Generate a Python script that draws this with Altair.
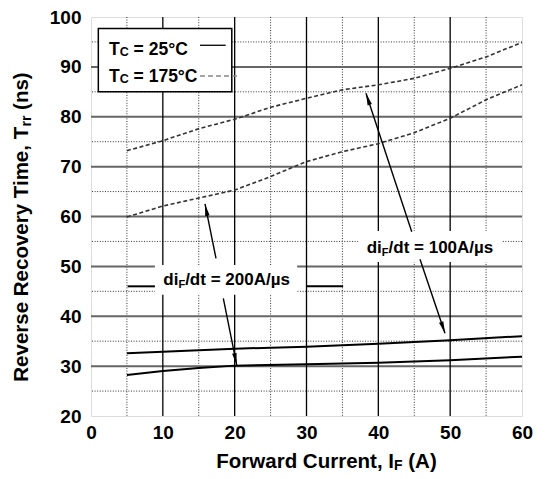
import math
import altair as alt
import pandas as pd

# ---------------- data ----------------
x_25c_100 = [5, 10, 20, 30, 40, 50, 60]
y_25c_100 = [32.6, 32.9, 33.5, 33.9, 34.5, 35.2, 36.0]
x_25c_200 = [5, 10, 15, 20, 30, 40, 50, 60]
y_25c_200 = [28.2, 29.0, 29.6, 30.1, 30.4, 30.7, 31.2, 31.9]
x_175c = [5, 10, 15, 20, 25, 30, 35, 40, 45, 50, 55, 60]
y_175c_100 = [73.2, 75.2, 77.6, 79.5, 81.9, 83.7, 85.4, 86.4, 87.7, 89.7, 92.0, 94.9]
y_175c_200 = [59.9, 62.1, 63.7, 65.3, 68.0, 71.0, 73.0, 74.6, 76.8, 79.7, 83.4, 86.4]

x_ticks = [0, 10, 20, 30, 40, 50, 60]
y_ticks = [20, 30, 40, 50, 60, 70, 80, 90, 100]
x_major = [10, 20, 30, 40, 50]
x_minor = [5, 15, 25, 35, 45, 55]
y_major = [30, 40, 50, 60, 70, 80, 90]
y_minor = [25, 35, 45, 55, 65, 75, 85, 95]

# arrows: tail -> head (data coordinates)
arrow_tail_x = [44.65, 45.80, 17.40, 18.42]
arrow_tail_y = [56.95, 51.42, 51.62, 43.60]
arrow_head_x = [38.28, 49.28, 15.87, 20.28]
arrow_head_y = [84.70, 36.58, 62.51, 30.23]

# ---------------- layout ----------------
W, H = 431, 399
PL, PT = 91, 17
FONT = "Liberation Sans"
XS = alt.Scale(domain=[0, 60], nice=False, zero=False)
YS = alt.Scale(domain=[20, 100], nice=False, zero=False)
XA = alt.Axis(values=x_ticks, title=None, grid=False, domain=False, ticks=False,
              labelPadding=7, labelFontSize=19, labelFontWeight="bold",
              labelFont=FONT, labelColor="black", labelFlush=False)
YA = alt.Axis(values=y_ticks, title=None, grid=False, domain=False, ticks=False,
              labelPadding=10, labelFontSize=19, labelFontWeight="bold",
              labelFont=FONT, labelColor="black", labelFlush=False)


def ex(f):
    return alt.X(f"{f}:Q", scale=XS, axis=XA)


def ey(f):
    return alt.Y(f"{f}:Q", scale=YS, axis=YA)


def sx(v):
    return v * W / 60.0


def sy(v):
    return v * H / 80.0


layers = []

# grid
layers.append(alt.Chart(pd.DataFrame({"x": x_minor})).mark_rule(
    color="#333", strokeWidth=1, strokeDash=[1, 1.6]).encode(x=ex("x")))
layers.append(alt.Chart(pd.DataFrame({"y": y_minor})).mark_rule(
    color="#333", strokeWidth=1, strokeDash=[1, 1.6]).encode(y=ey("y")))
layers.append(alt.Chart(pd.DataFrame({"y": y_major})).mark_rule(
    color="#666", strokeWidth=2).encode(y=ey("y")))
layers.append(alt.Chart(pd.DataFrame({"x": x_major})).mark_rule(
    color="black", strokeWidth=1.3).encode(x=ex("x")))

# white boxes
boxes = pd.DataFrame({
    "x": [1.02, 37.2, 8.9], "x2": [19.6, 57.2, 28.7],
    "y": [85.0, 50.9, 44.3], "y2": [97.7, 57.1, 50.3],
    "s": [1.5, 0, 0]})
layers.append(alt.Chart(boxes).mark_rect(fill="white", stroke="black").encode(
    x=ex("x"), x2="x2:Q", y=ey("y"), y2="y2:Q",
    strokeWidth=alt.StrokeWidth("s:Q", scale=None)))

# curves
solid = pd.concat([
    pd.DataFrame({"x": x_25c_100, "y": y_25c_100, "s": "25_100"}),
    pd.DataFrame({"x": x_25c_200, "y": y_25c_200, "s": "25_200"}),
])
dashed = pd.concat([
    pd.DataFrame({"x": x_175c, "y": y_175c_100, "s": "175_100"}),
    pd.DataFrame({"x": x_175c, "y": y_175c_200, "s": "175_200"}),
])
layers.append(alt.Chart(solid).mark_line(color="black", strokeWidth=2).encode(
    x=ex("x"), y=ey("y"), detail="s:N"))
layers.append(alt.Chart(dashed).mark_line(color="#333", strokeWidth=1.6,
                                          strokeDash=[4, 2.5]).encode(
    x=ex("x"), y=ey("y"), detail="s:N"))

# stray black segments next to the 200A/us label
segs = pd.DataFrame({"x": [5.1, 30.0], "x2": [8.9, 35.1], "y": [46.0, 46.0]})
layers.append(alt.Chart(segs).mark_rule(color="black", strokeWidth=2).encode(
    x=ex("x"), x2="x2:Q", y=ey("y")))

# legend samples
samp_solid = pd.DataFrame({"x": [15.17], "x2": [18.75], "y": [94.33]})
samp_dash = pd.DataFrame({"x": [15.17], "x2": [20.47], "y": [88.17]})
layers.append(alt.Chart(samp_solid).mark_rule(color="black", strokeWidth=1.3).encode(
    x=ex("x"), x2="x2:Q", y=ey("y")))
layers.append(alt.Chart(samp_dash).mark_rule(color="#888", strokeWidth=1.5,
                                             strokeDash=[5, 3]).encode(
    x=ex("x"), x2="x2:Q", y=ey("y")))

# arrows
angles = []
for tx, ty, hx, hy in zip(arrow_tail_x, arrow_tail_y, arrow_head_x, arrow_head_y):
    dx = sx(hx - tx)
    dy = -sy(hy - ty)
    angles.append(math.degrees(math.atan2(dx, -dy)) % 360)
arrows = pd.DataFrame({"x": arrow_tail_x, "y": arrow_tail_y,
                       "x2": arrow_head_x, "y2": arrow_head_y, "a": angles})
layers.append(alt.Chart(arrows).mark_rule(color="black", strokeWidth=1.4).encode(
    x=ex("x"), y=ey("y"), x2="x2:Q", y2="y2:Q"))
layers.append(alt.Chart(arrows).mark_point(
    shape="M0,0L-0.45,2.4L0.45,2.4Z", filled=True, color="black", opacity=1,
    size=100).encode(x=ex("x2"), y=ey("y2"),
                     angle=alt.Angle("a:Q", scale=None)))

# ---------------- text with subscripts ----------------
WID = {" ": 278, "(": 333, ")": 333, ",": 278, "/": 278, "=": 584,
       "°": 400, "µ": 611, "A": 722, "C": 722, "F": 611, "I": 278, "R": 722,
       "T": 611, "a": 556, "c": 556, "d": 611, "e": 556, "i": 278, "m": 889,
       "n": 611, "o": 611, "r": 389, "s": 556, "t": 333, "u": 611, "v": 556,
       "w": 778, "y": 556}
for ch in "0123456789":
    WID[ch] = 556


def tw(s, size):
    return sum(WID.get(c, 556) for c in s) * size / 1000.0


def run(pieces, x0, y0, angle=0):
    """pieces: list of (text, size, drop). x0,y0 in page pixels."""
    out = []
    pos = 0.0
    for text, size, drop in pieces:
        body = text.lstrip(" ")
        pos += tw(text[:len(text) - len(body)], size)
        if angle == 0:
            px, py = x0 + pos - PL, y0 + drop - PT
        else:
            px, py = x0 + drop - PL, y0 - pos - PT
        ch = alt.Chart(pd.DataFrame({"t": [body]})).mark_text(
            align="left", baseline="alphabetic", font=FONT, fontWeight="bold",
            fontSize=size, color="black", angle=angle).encode(
            x=alt.value(px), y=alt.value(py), text="t:N")
        out.append(ch)
        pos += tw(body, size)
    return out


LS, LSS = 17.5, 12.5
layers += run([("T", LS, 0), ("C", LSS, 1), (" = 25°C", LS, 0)], 109, 55)
layers += run([("T", LS, 0), ("C", LSS, 1), (" = 175°C", LS, 0)], 109, 82)
AS, ASS = 17, 11
layers += run([("di", AS, 0), ("F", ASS, 3), ("/dt = 100A/µs", AS, 0)], 366.7, 252.7)
layers += run([("di", AS, 0), ("F", ASS, 3), ("/dt = 200A/µs", AS, 0)], 163.3, 285)

TS, TSS = 20.5, 14
xt = [("Forward Current, I", TS, 0), ("F", TSS, 2), (" (A)", TS, 0)]
xt_w = sum(tw(t, s) for t, s, _ in xt)
layers += run(xt, 326.5 - xt_w / 2, 468)
yt = [("Reverse Recovery Time, T", TS, 0), ("rr", TSS, 3), (" (ns)", TS, 0)]
yt_w = sum(tw(t, s) for t, s, _ in yt)
layers += run(yt, 28, 227 + yt_w / 2, angle=270)

chart = alt.layer(*layers).properties(
    width=W, height=H,
    autosize=alt.AutoSizeParams(type="none"),
    padding={"left": PL, "top": PT, "right": 559 - PL - W, "bottom": 479 - PT - H},
).configure_view(stroke="black", strokeWidth=2.5).configure(background="white")

chart.save("out.html", embed_options={"renderer": "svg", "actions": False})
